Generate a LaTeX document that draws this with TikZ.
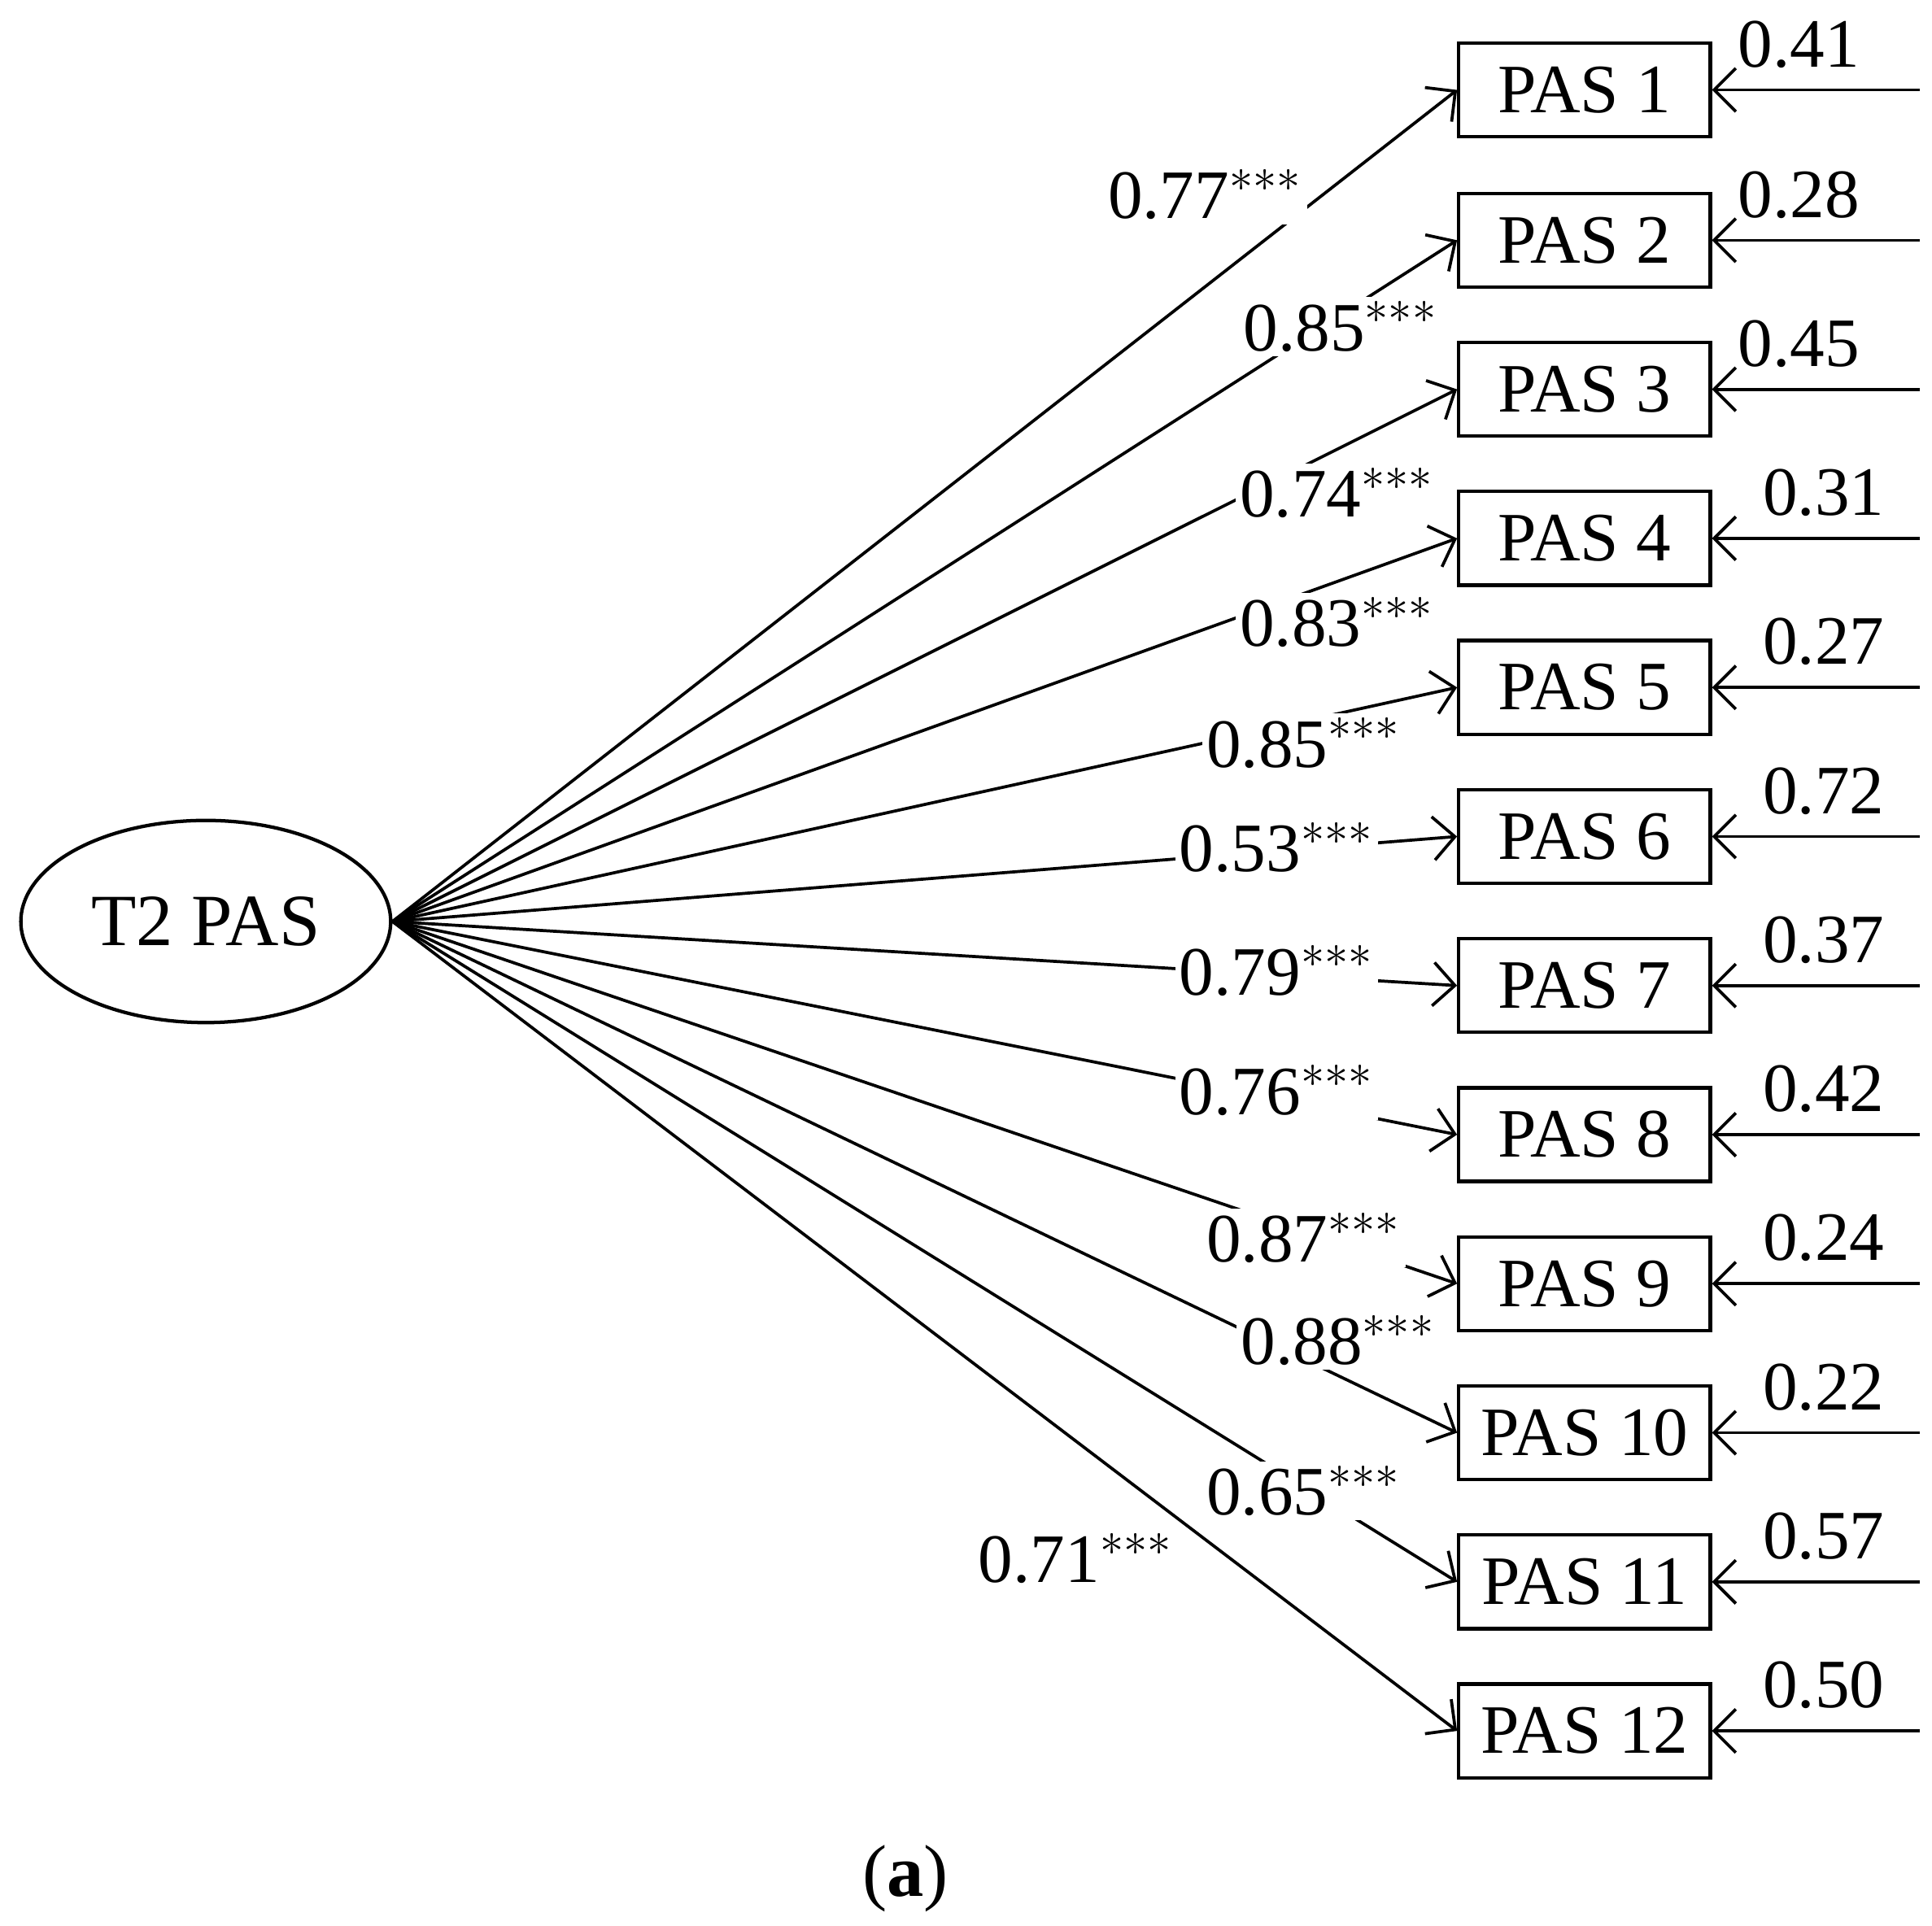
\documentclass[tikz,border=0pt]{standalone}
\usepackage{fontspec}
\setmainfont{Liberation Serif}
\usetikzlibrary{shapes.geometric,arrows.meta}
\begin{document}
\begin{tikzpicture}[x=0.01cm,y=-0.01cm,
  ind/.style={draw,line width=0.8pt,minimum width=2.04cm,minimum height=0.76cm,inner sep=0pt,font=\fontsize{16}{18}\selectfont},
  lab/.style={anchor=west,fill=white,inner sep=1pt,font=\fontsize{16}{18}\selectfont},
  err/.style={anchor=center,inner sep=0pt,font=\fontsize{16}{18}\selectfont},
  ar/.style={-{Straight Barb[length=5pt,width=10pt]},line width=0.7pt}]
\useasboundingbox (0,0) rectangle (1568,1563);
\node[draw,ellipse,line width=0.8pt,minimum width=3.0cm,minimum height=1.64cm,inner sep=0pt,font=\fontsize{17}{19}\selectfont] (lat) at (167,748) {T2 PAS};
\foreach \i/\y/\ex/\e in {1/73/1460/0.41,2/195/1460/0.28,3/316/1460/0.45,4/437/1480/0.31,5/558/1480/0.27,6/679/1480/0.72,7/800/1480/0.37,8/921/1480/0.42,9/1042/1480/0.24,10/1163/1480/0.22,11/1284/1480/0.57,12/1405/1480/0.50}{
  \node[ind] (p\i) at (1286,\y) {PAS \i};
  \draw[ar] (lat.east) -- (p\i.west);
  \coordinate (e\i) at (1558,\y);
  \draw[ar] (e\i) -- (p\i.east);
  \node[err] (el\i) at (\ex,\y-37) {\e};
}
\foreach \i/\lx/\ly/\v in {1/895/158/0.77,2/1005/265/0.85,3/1002/400/0.74,4/1002/505/0.83,5/975/603/0.85,6/953/688/0.53,7/953/788/0.79,8/953/885/0.76,9/975/1005/0.87,10/1003/1088/0.88,11/975/1210/0.65,12/790/1265/0.71}{
  \node[lab] (l\i) at (\lx,\ly) {\v$^{***}$};
}
\node[font=\fontsize{17}{19}\selectfont] (cap) at (735,1525) {(\textbf{a})};
\end{tikzpicture}
\end{document}
